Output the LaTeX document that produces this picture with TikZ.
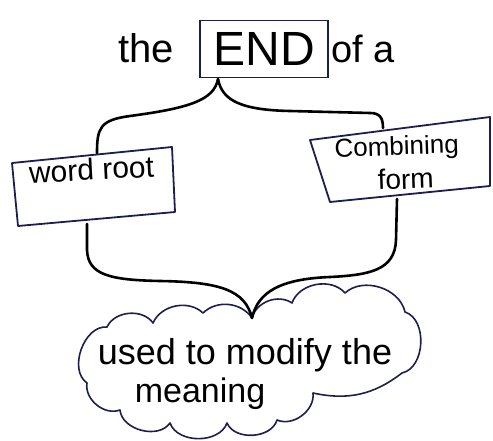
\documentclass[tikz,border=0pt]{standalone}
\usepackage{fontspec}
\setmainfont{Liberation Sans}
\definecolor{navy}{HTML}{1E1E4E}
\begin{document}
\begin{tikzpicture}[x=1pt,y=-1pt,
  boxline/.style={draw=navy,line width=1.8pt,line join=round},
  cloudline/.style={draw=navy,line width=1.6pt,line join=round},
  brace/.style={draw=black,line width=2.6pt,line cap=round,line join=round},
  lbl/.style={inner sep=0pt,text=black,anchor=base}]
\useasboundingbox (0,0) rectangle (493,441);

% top line
\node[lbl,font=\fontsize{40}{40}\selectfont] (the) at (146,63) {the};
\node[draw=navy,line width=1.8pt,inner sep=0pt,font=\fontsize{48}{48}\selectfont,
      minimum width=128pt,minimum height=57pt] (end) at (264,49) {END};
\node[lbl,font=\fontsize{38}{38}\selectfont] (ofa) at (363,63) {of a};

% boxes
\draw[boxline] (12,163) -- (172,147) -- (175,212) -- (18,226) -- cycle;
\node[lbl,font=\fontsize{30}{30}\selectfont,rotate=3] (wr) at (92,180) {word root};
\draw[boxline] (310,140) -- (490,117) -- (490,186) -- (330,202) -- cycle;
\node[lbl,font=\fontsize{26}{26}\selectfont,rotate=2] (comb) at (397,155) {Combining};
\node[lbl,font=\fontsize{28}{28}\selectfont,rotate=2] (form) at (406,189) {form};

\coordinate (cusp1) at (218,79);
\coordinate (wrtop) at (97,153);
\coordinate (cftop) at (383,128);
\coordinate (wrbot) at (87,224);
\coordinate (cfbot) at (397,199);
\coordinate (cusp2) at (252,318);

% cloud
\draw[cloudline] (cusp2) to[bend left=55] (292,303) to[bend left=60] (345,293)
  to[bend left=60] (405,312) to[bend left=75] (402,373) to[bend left=25] (313,393)
  to[bend left=60] (277,420) to[bend left=70] (227,423) to[bend left=70] (170,423)
  to[bend left=70] (120,410) to[bend left=60] (87,383) to[bend left=75] (107,327)
  to[bend left=60] (153,323) to[bend left=55] (203,313) to[bend left=50] (cusp2);
\node[lbl,font=\fontsize{36}{36}\selectfont] (l1) at (245,364) {used to modify the};
\node[lbl,font=\fontsize{34}{34}\selectfont] (l2) at (200,402) {meaning};

% braces
\draw[brace] (cusp1) .. controls (214,100) and (190,108) .. (130,116)
  .. controls (100,120) and (97,128) .. (wrtop);
\draw[brace] (cusp1) .. controls (222,100) and (240,110) .. (290,111) -- (370,113)
  .. controls (380,113) and (383,118) .. (cftop);
\draw[brace] (wrbot) -- (87,250) .. controls (88,275) and (110,280) .. (160,281)
  .. controls (220,282) and (245,290) .. (cusp2);
\draw[brace] (cfbot) -- (396,240) .. controls (395,270) and (370,275) .. (330,277)
  .. controls (280,279) and (258,292) .. (cusp2);
\end{tikzpicture}
\end{document}
